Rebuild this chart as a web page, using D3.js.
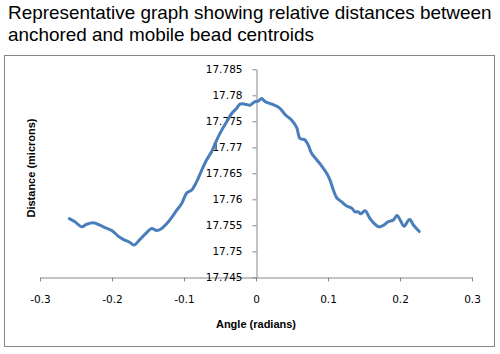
<!DOCTYPE html>
<html><head><meta charset="utf-8">
<script src="https://cdn.jsdelivr.net/npm/d3@7"></script>
<style>html,body{margin:0;padding:0;background:#fff;}svg{display:block;}</style>
</head><body>
<svg id="c" width="500" height="354"></svg>
<script>
const titleLines = ["Representative graph showing relative distances between", "anchored and mobile bead centroids"];
const xLabel = "Angle (radians)";
const yLabel = "Distance (microns)";
const xTicks = [-0.3, -0.2, -0.1, 0, 0.1, 0.2, 0.3];
const yTicks = [17.745, 17.75, 17.755, 17.76, 17.765, 17.77, 17.775, 17.78, 17.785];
const angle = [-0.2593,-0.2514,-0.2421,-0.2351,-0.2260,-0.2213,-0.2121,-0.2004,-0.1913,-0.1843,-0.1750,-0.1694,-0.1611,-0.1518,-0.1449,-0.1379,-0.1310,-0.1240,-0.1171,-0.1101,-0.1032,-0.0963,-0.0893,-0.0824,-0.0754,-0.0685,-0.0615,-0.0546,-0.0476,-0.0407,-0.0338,-0.0268,-0.0222,-0.0153,-0.0083,-0.0014,0.0032,0.0079,0.0125,0.0240,0.0333,0.0403,0.0496,0.0565,0.0611,0.0681,0.0726,0.0774,0.0843,0.0913,0.0982,0.1028,0.1074,0.1121,0.1190,0.1260,0.1329,0.1375,0.1421,0.1454,0.1514,0.1583,0.1629,0.1708,0.1768,0.1838,0.1907,0.1958,0.2007,0.2056,0.2132,0.2194,0.2268];
const distance = [17.7563,17.7557,17.7547,17.7552,17.7555,17.7553,17.7547,17.7540,17.7529,17.7523,17.7517,17.7512,17.7523,17.7536,17.7544,17.7540,17.7544,17.7553,17.7565,17.7579,17.7592,17.7612,17.7618,17.7634,17.7656,17.7676,17.7692,17.7714,17.7733,17.7749,17.7765,17.7775,17.7783,17.7783,17.7781,17.7788,17.7789,17.7794,17.7788,17.7782,17.7775,17.7763,17.7752,17.7738,17.7717,17.7714,17.7704,17.7688,17.7676,17.7664,17.7650,17.7637,17.7618,17.7603,17.7595,17.7587,17.7583,17.7576,17.7576,17.7572,17.7578,17.7563,17.7555,17.7547,17.7550,17.7557,17.7560,17.7569,17.7559,17.7548,17.7561,17.7549,17.7538];

const svg = d3.select("#c");
const axisCol = "#868686";

// title
const title = svg.append("g");
titleLines.forEach((t, i) => {
  title.append("text").attr("x", 8).attr("y", 19 + i * 22)
    .attr("font-family", "Liberation Sans, Arial, sans-serif").attr("font-size", 17)
    .attr("fill", "#000").text(t);
});
const n0 = title.select("text").node();
const w0 = n0.getComputedTextLength();
title.selectAll("text").attr("font-size", 17 * 484 / w0);

// chart border
svg.append("rect").attr("x", 4.5).attr("y", 55.5).attr("width", 490).attr("height", 291)
  .attr("fill", "#fff").attr("stroke", axisCol).attr("stroke-width", 1);

const x = d3.scaleLinear().domain([-0.3, 0.3]).range([40, 472]);
const y = d3.scaleLinear().domain([17.745, 17.785]).range([277.3, 69.3]);

// x axis
const xa = svg.append("g").attr("transform", `translate(0,${Math.round(y(17.745)) + 0.5})`)
  .call(d3.axisBottom(x).tickValues(xTicks).tickSize(4).tickPadding(14).tickSizeOuter(0)
    .tickFormat(d => d === 0 ? "0" : String(+d.toFixed(1))));
xa.select(".domain").attr("stroke", axisCol);
xa.selectAll(".tick line").attr("stroke", axisCol);
xa.selectAll(".tick text").attr("font-family", "DejaVu Sans, Verdana, sans-serif").attr("font-size", 10.5).attr("fill", "#000");

// y axis
const ya = svg.append("g").attr("transform", `translate(${Math.round(x(0)) + 0.5},0)`)
  .call(d3.axisLeft(y).tickValues(yTicks).tickSize(4).tickPadding(10).tickSizeOuter(0)
    .tickFormat(d => String(+d.toFixed(3))));
ya.select(".domain").attr("stroke", axisCol);
ya.selectAll(".tick line").attr("stroke", axisCol);
ya.selectAll(".tick text").attr("font-family", "DejaVu Sans, Verdana, sans-serif").attr("font-size", 10.5).attr("fill", "#000");

// axis titles
svg.append("text").attr("x", 256).attr("y", 328).attr("text-anchor", "middle")
  .attr("font-family", "Liberation Sans, Arial, sans-serif").attr("font-weight", "bold").attr("font-size", 11)
  .attr("fill", "#000").text(xLabel);
svg.append("text").attr("transform", "translate(35,168) rotate(-90)").attr("text-anchor", "middle")
  .attr("font-family", "Liberation Sans, Arial, sans-serif").attr("font-weight", "bold").attr("font-size", 11)
  .attr("fill", "#000").text(yLabel);

// series
const pts = angle.map((a, i) => [a, distance[i]]);
svg.append("path").datum(pts)
  .attr("fill", "none").attr("stroke", "#4a7ebb").attr("stroke-width", 3)
  .attr("stroke-linejoin", "round").attr("stroke-linecap", "round")
  .attr("d", d3.line().x(d => x(d[0])).y(d => y(d[1])).curve(d3.curveCatmullRom.alpha(0.5)));
</script>
</body></html>
